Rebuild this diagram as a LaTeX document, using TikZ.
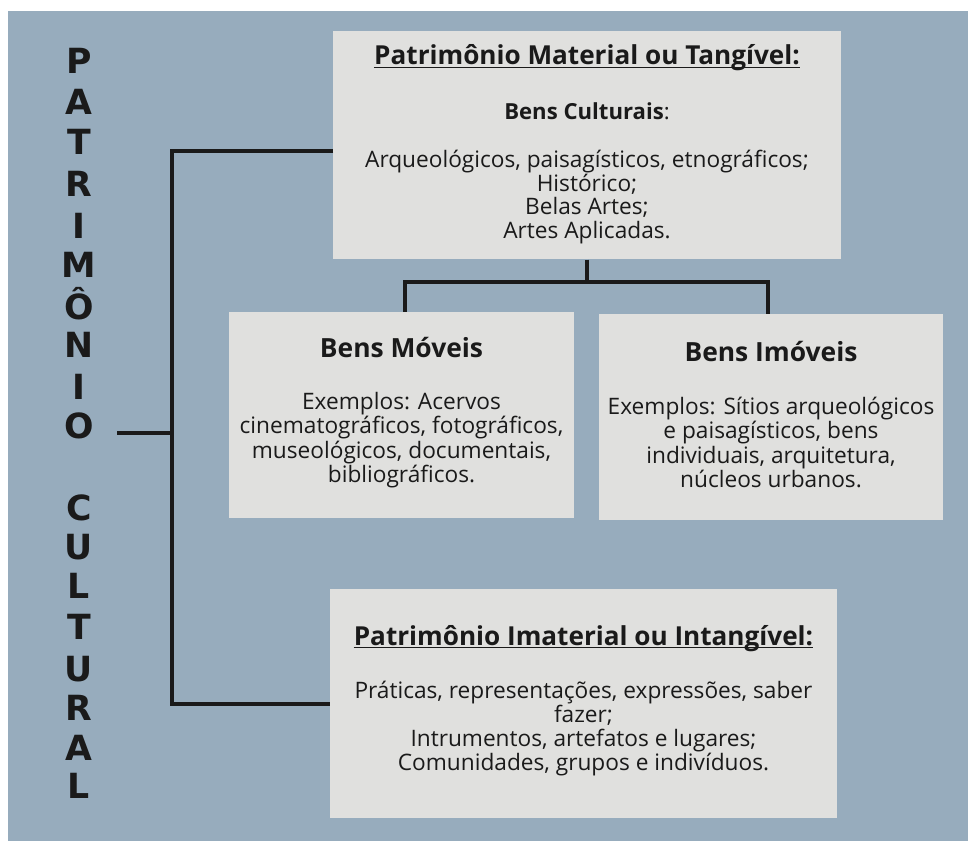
\documentclass[tikz,border=0pt]{standalone}
\usepackage{fontspec}
\setmainfont{Open Sans}
\newfontfamily\vertfont{DejaVu Sans}
\definecolor{bgblue}{RGB}{151,172,189}
\definecolor{boxgrey}{RGB}{224,224,222}
\definecolor{ink}{RGB}{26,26,26}
\tikzset{
  panel/.style={draw=none, fill=boxgrey, inner sep=0pt, anchor=north west},
  link/.style={draw=ink, line width=2.4pt},
  vletter/.style={text=ink, font=\vertfont\bfseries\fontsize{26}{26}\selectfont, anchor=base, inner sep=0pt},
  headtxt/.style={text=ink, font=\bfseries\fontsize{19.6}{22}\selectfont, anchor=base, inner sep=0pt},
  subhead/.style={text=ink, font=\bfseries\fontsize{19.8}{22}\selectfont, anchor=base, inner sep=0pt},
  bodytxt/.style={text=ink, font=\fontsize{17}{17.8}\selectfont, align=center, inner sep=0pt},
}
\begin{document}
\begin{tikzpicture}[x=0.75pt,y=-0.75pt]
\useasboundingbox (0,0) rectangle (968,841);
\fill[white] (0,0) rectangle (968,841);
\fill[bgblue] (8,11) rectangle (968,841);

% vertical title
\foreach \ch/\yy in {P/61,A/102,T/142,R/184,I/226,M/265,Ô/307,N/345,I/387,O/426,
                     C/508,U/547,L/586,T/627,U/669,R/708,A/748,L/786}
  \node[vletter] at (79,\yy+12.8) {\ch};

% boxes
\node[panel, minimum width=508*0.75pt, minimum height=228*0.75pt] (mat) at (333,31) {};
\node[panel, minimum width=345*0.75pt, minimum height=206*0.75pt] (mov) at (229,312) {};
\node[panel, minimum width=344*0.75pt, minimum height=206*0.75pt] (imov) at (599,314) {};
\node[panel, minimum width=507*0.75pt, minimum height=229*0.75pt] (imat) at (330,589) {};

% texts: material
\node[headtxt] (matT) at (587,65) {Patrimônio Material ou Tangível:};
\draw[ink, line width=1pt] ([yshift=-2pt]matT.base west) -- ([yshift=-2pt]matT.base east);
\node[subhead, font=\bfseries\fontsize{16.6}{19}\selectfont] (matS) at (587,120) {Bens Culturais\mdseries:};
\node[bodytxt] (matB) at (587,197) {Arqueológicos, paisagísticos, etnográficos;\\Histórico;\\Belas Artes;\\Artes Aplicadas.};

% texts: moveis
\node[subhead] (movT) at (401.5,357.5) {Bens Móveis};
\node[bodytxt, font=\fontsize{17}{18.4}\selectfont] (movB) at (401.5,440) {Exemplos: Acervos\\cinematográficos, fotográficos,\\museológicos, documentais,\\bibliográficos.};

% texts: imoveis
\node[subhead] (imovT) at (771,361.5) {Bens Imóveis};
\node[bodytxt, font=\fontsize{17}{18.4}\selectfont] (imovB) at (771,442.5) {Exemplos: Sítios arqueológicos\\e paisagísticos, bens\\individuais, arquitetura,\\núcleos urbanos.};

% texts: imaterial
\node[headtxt] (imatT) at (583.5,645) {Patrimônio Imaterial ou Intangível:};
\draw[ink, line width=1pt] ([yshift=-2pt]imatT.base west) -- ([yshift=-2pt]imatT.base east);
\node[bodytxt] (imatB) at (583.5,728.5) {Práticas, representações, expressões, saber\\fazer;\\Intrumentos, artefatos e lugares;\\Comunidades, grupos e indivíduos.};

% connectors
\coordinate (root) at (117,433);
\coordinate (spine) at (172,433);
\coordinate (fork) at (587,282);
\draw[link] (root) -- (spine);
\draw[link] (mat.west |- 0,151) -| (spine) |- (imat.west |- 0,704);
\draw[link] (mat.south -| fork) -- (fork);
\draw[link] (mov.north -| 405,0) |- (fork) -| (imov.north -| 768,0);
\end{tikzpicture}
\end{document}
